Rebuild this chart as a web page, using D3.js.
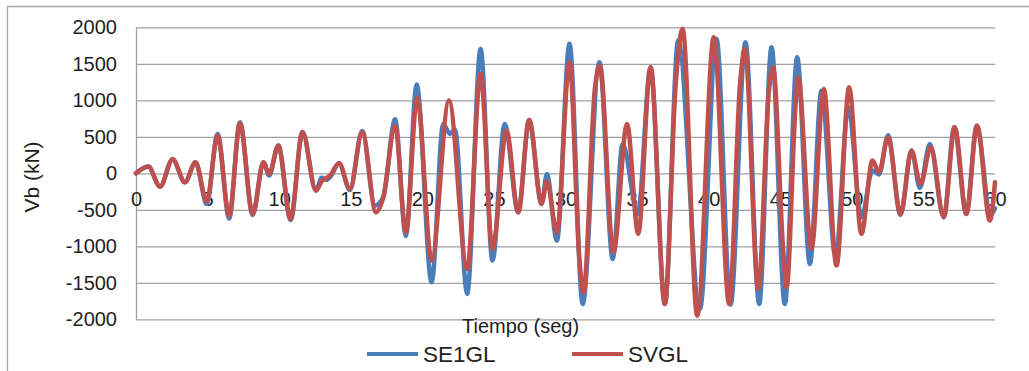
<!DOCTYPE html>
<html lang="en">
<head>
    <meta charset="UTF-8">
    <title>Vb - Tiempo</title>
    <script src="https://d3js.org/d3.v7.min.js"></script>
    <style>
        html, body {
            margin: 0;
            background: #fff;
        }
        #vis {
            width: 1029px;
            height: 371px;
        }
        text {
            font-family: "Liberation Sans", Arial, sans-serif;
            fill: #1f1f1f;
        }
    </style>
</head>
<body>
    <div id="vis"></div>

    <script>

        /*
         *  DATA (peaks and troughs)
         */
        var series_names = ["SE1GL", "SVGL"];
        var series_colors = ["#4A7EBB", "#C0504D"];

        var x_ticks = [0, 5, 10, 15, 20, 25, 30, 35, 40, 45, 50, 55, 60];
        var y_ticks = [-2000, -1500, -1000, -500, 0, 500, 1000, 1500, 2000];

        // SE1GL
        var t_se1gl = [0, 0.86, 1.68, 2.56, 3.42, 4.16, 4.94, 5.7, 6.51, 7.26, 8.15, 8.9, 9.3, 9.94,
            10.8, 11.63, 12.57, 12.97, 13.3, 13.6, 14.18, 14.94, 15.8, 16.7, 17.27, 18.1, 18.85, 19.6,
            20.65, 21.46, 21.93, 22.28, 23.13, 24.07, 24.9, 25.75, 26.7, 27.46, 28.33, 28.7, 29.4,
            30.28, 31.2, 32.37, 33.3, 33.99, 35.05, 35.94, 36.94, 37.87, 39.39,
            40.55, 41.53, 42.57, 43.53, 44.39, 45.32, 46.18, 47.07, 47.88, 48.86,
            49.75, 50.67, 51.44, 51.9, 52.53, 53.4, 54.17, 54.75, 55.45, 56.42, 57.15, 58.0, 58.72, 59.7, 60];
        var v_se1gl = [0, 92, -182, 192, -123, 151, -420, 540, -620, 700, -570, 151, -30, 380,
            -640, 570, -237, -60, -90, -40, 137, -230, 580, -440, -330, 740, -860, 1215,
            -1493, 677, 540, 600, -1652, 1704, -1196, 677, -534, 731, -419, -10, -922,
            1773, -1790, 1521, -1173, 400, -553, 1453, -1790, 1820, -1858,
            1840, -1800, 1795, -1790, 1726, -1790, 1589, -1241, 1130, -1150,
            904, -603, 40, -15, 520, -570, 311, -200, 400, -603, 630, -557, 653, -570, -480];

        // SVGL
        var t_svgl = [0, 0.86, 1.68, 2.56, 3.42, 4.16, 4.94, 5.7, 6.51, 7.26, 8.15, 8.9, 9.3, 9.94,
            10.8, 11.63, 12.57, 12.97, 13.55, 14.18, 14.94, 15.8, 16.76, 17.27, 18.1, 18.85, 19.64,
            20.65, 21.86, 23.13, 24.07, 24.9, 25.88, 26.7, 27.46, 28.33, 28.7, 29.4,
            30.28, 30.96, 31.25, 32.05, 32.4, 33.35, 34.3, 35.08, 35.94, 36.94, 37.7, 38.18, 39.2,
            40.36, 41.43, 42.2, 42.53, 43.46, 44.2, 44.5, 45.2, 45.44, 46.09, 46.25, 47.18, 48.04, 48.93,
            49.81, 50.67, 51.44, 51.9, 52.53, 53.4, 54.17, 54.8, 55.52, 56.42, 57.19, 58.0, 58.75, 59.64, 60];
        var v_svgl = [0, 92, -182, 192, -123, 151, -384, 516, -580, 685, -557, 151, -10, 380,
            -625, 562, -237, -110, -32, 137, -214, 562, -534, -329, 653, -808, 1040,
            -1196, 996, -1310, 1362, -1036, 585, -534, 731, -419, -110, -808,
            1521, -1150, -1630, 1156, 1476, -1082, 677, -831, 1453, -1790, 1225, 1980, -1950,
            1863, -1790, 1247, 1704, -1584, 1110, 1453, -1036, -1562, 996, 1315, -1036, 1156, -1264,
            1178, -831, 174, 14, 493, -557, 311, -146, 356, -603, 630, -557, 653, -648, -123];

        /*
         *  DECLARATION BLOCK
         */
        var view_width = 1029;
        var view_height = 371;

        var plot = {left: 136, right: 995, top: 27.3, bottom: 319.3};

        var svg = d3.select('#vis')
            .append('svg')
                .attr('width', view_width)
                .attr('height', view_height);

        // chart frame (only top and left edges are inside the picture)
        svg.append('path')
            .attr('d', 'M7.5,' + view_height + 'V6.5H' + view_width)
            .attr('fill', 'none')
            .attr('stroke', '#a6a6a6')
            .attr('stroke-width', 1.3);

        var x_scale = d3.scaleLinear()
            .domain([0, 60])
            .range([plot.left, plot.right]);

        var y_scale = d3.scaleLinear()
            .domain([-2000, 2000])
            .range([plot.bottom, plot.top]);

        // y axis + horizontal gridlines (plain hyphen for negatives, like the original)
        var y_axis = d3.axisLeft(y_scale)
            .tickValues(y_ticks)
            .tickSizeInner(-(plot.right - plot.left))
            .tickSizeOuter(0)
            .tickPadding(19)
            .tickFormat(function(d) { return String(d); });

        var gy = svg.append('g')
            .attr('class', 'y axis')
            .attr('transform', 'translate(' + plot.left + ',0)')
            .call(y_axis);

        gy.selectAll('line, path')
            .attr('stroke', '#a0a0a0')
            .attr('stroke-width', 1.3);
        gy.selectAll('text')
            .attr('font-size', 20)
            .attr('fill', '#1f1f1f');

        // x axis labels sit on the zero line
        var x_axis = d3.axisBottom(x_scale)
            .tickValues(x_ticks)
            .tickSize(0)
            .tickPadding(19)
            .tickFormat(function(d) { return String(d); });

        var gx = svg.append('g')
            .attr('class', 'x axis')
            .attr('transform', 'translate(0,' + y_scale(0) + ')')
            .call(x_axis);

        gx.select('.domain').remove();
        gx.selectAll('text')
            .attr('font-size', 20)
            .attr('fill', '#1f1f1f');

        // axis titles
        svg.append('text')
            .attr('transform', 'translate(39,177) rotate(-90)')
            .attr('text-anchor', 'middle')
            .attr('font-size', 21)
            .text('Vb (kN)');

        svg.append('text')
            .attr('x', 462)
            .attr('y', 333)
            .attr('font-size', 20)
            .text('Tiempo (seg)');

        /*
         *  SERIES
         */
        var all_series = [
            {name: series_names[0], color: series_colors[0], t: t_se1gl, v: v_se1gl},
            {name: series_names[1], color: series_colors[1], t: t_svgl, v: v_svgl}
        ];

        var valueline = d3.line()
            .x(function(d) { return x_scale(d[0]); })
            .y(function(d) { return y_scale(d[1]); })
            .curve(d3.curveMonotoneX);

        all_series.forEach(function(s) {
            var pts = s.t.map(function(t, i) { return [t, s.v[i]]; });
            svg.append('path')
                .datum(pts)
                .attr('class', 'line')
                .attr('fill', 'none')
                .attr('stroke', s.color)
                .attr('stroke-width', 4.5)
                .attr('stroke-linejoin', 'round')
                .attr('stroke-linecap', 'round')
                .attr('d', valueline);
        });

        // legend
        var legend_x = [367, 572];
        all_series.forEach(function(s, i) {
            svg.append('line')
                .attr('x1', legend_x[i])
                .attr('x2', legend_x[i] + 51)
                .attr('y1', 354)
                .attr('y2', 354)
                .attr('stroke', s.color)
                .attr('stroke-width', 4);
            svg.append('text')
                .attr('x', legend_x[i] + 56)
                .attr('y', 362)
                .attr('font-size', 22.5)
                .text(s.name);
        });

    </script>
</body>
</html>
